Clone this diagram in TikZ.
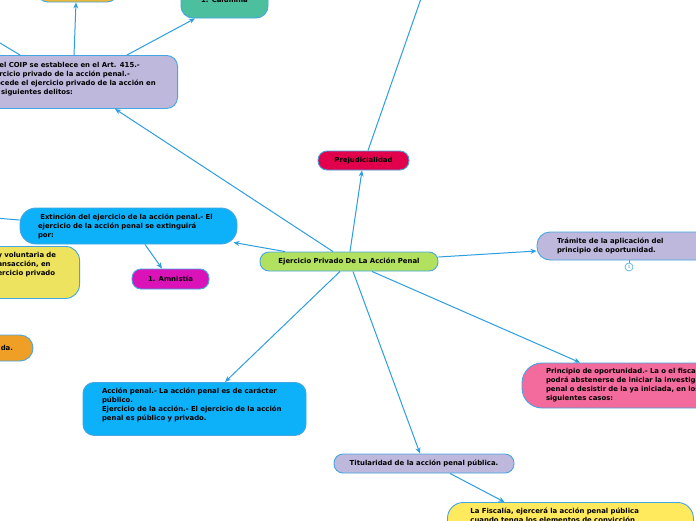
\documentclass[tikz,border=0pt]{standalone}
\usepackage{fontspec}
\usepackage{tikz}
\usetikzlibrary{arrows.meta}
\newfontfamily\mapfont{DejaVu Sans}

\definecolor{lienazul}{HTML}{2D9EE0}
\definecolor{bordeazul}{HTML}{45A6E2}
\definecolor{verdecentro}{HTML}{B2E05F}
\definecolor{carmin}{HTML}{E2004C}
\definecolor{celeste}{HTML}{0DB1F9}
\definecolor{lavanda}{HTML}{BDB8DC}
\definecolor{magenta}{HTML}{DA13B9}
\definecolor{amarillo}{HTML}{EDE35E}
\definecolor{amarillofis}{HTML}{FFEA5E}
\definecolor{naranja}{HTML}{F09F26}
\definecolor{ocre}{HTML}{EAB93A}
\definecolor{turquesa}{HTML}{4CBF9F}
\definecolor{rosa}{HTML}{F26B9C}

\begin{document}
\begin{tikzpicture}[x=1pt, y=-1pt,
    caja/.style={draw=bordeazul, line width=0.9pt, rounded corners=11pt,
        font=\mapfont\bfseries\fontsize{6.9}{9}\selectfont, text=black,
        inner ysep=4pt},
    pildora/.style={caja, rounded corners=9pt, inner sep=0pt,
        minimum height=19pt},
    enlace/.style={lienazul, line width=1pt, -{Stealth[length=6pt,width=5pt]}},
    rama/.style={lienazul, line width=1pt}]

    %% ── Marco de la vista ─────────────────────────────────────────────
    \useasboundingbox (0,0) rectangle (696,520);
    \clip (0,0) rectangle (696,520);
    \fill[white] (0,0) rectangle (696,520);

    %% ── Tema central ──────────────────────────────────────────────────
    \node[pildora, fill=verdecentro, minimum width=178pt] (central)
        at (349,261.5) {Ejercicio Privado De La Acción Penal};

    %% ── Rama superior ─────────────────────────────────────────────────
    \node[pildora, fill=carmin, minimum width=91pt] (prej)
        at (363.5,160.5) {Prejudicialidad};
    \coordinate (arriba) at (424,-10);

    \node[caja, fill=lavanda, text width=174pt, inner xsep=16pt,
          align=left, anchor=north east] (coip) at (178,55)
        {\rule{0pt}{8.5pt}En el COIP se establece en el Art. 415.-\\
         Ejercicio privado de la acción penal.-\\
         Procede el ejercicio privado de la acción en\\
         los siguientes delitos:\rule[-9.5pt]{0pt}{1pt}};
    \node[caja, fill=ocre, minimum width=81pt, minimum height=40pt]
        (ocre) at (77.5,-18) {};
    \node[caja, fill=turquesa, minimum width=87pt, minimum height=36pt,
          rounded corners=12pt] (calumnia) at (224.5,0) {1. Calumnia};
    \coordinate (fueraA) at (-5,40);

    %% ── Rama izquierda ────────────────────────────────────────────────
    \node[caja, fill=celeste, text width=181pt, inner xsep=18pt,
          minimum height=36pt, rounded corners=16pt, align=left]
        (extin) at (128.5,226)
        {\ Extinción del ejercicio de la acción penal.- El\\
         ejercicio de la acción penal se extinguirá\\
         por:};
    \coordinate (fueraB) at (-5,218);
    \node[pildora, fill=magenta, minimum width=77pt, minimum height=20pt]
        (amnis) at (170.5,279) {1. Amnistía};
    \node[caja, fill=amarillo, text width=62pt, inner xsep=20pt,
          rounded corners=14pt, align=left, anchor=north east]
        (renuncia) at (80,246)
        {\rule{0pt}{7pt}y voluntaria de\\ansacción, en\\
         ercicio privado\rule[-19pt]{0pt}{1pt}};
    \node[caja, fill=naranja, text width=63pt, inner xsep=20pt,
          minimum height=26pt, rounded corners=13pt, align=right]
        (cerrada) at (-18.5,348) {da.};

    %% ── Rama inferior ─────────────────────────────────────────────────
    \node[caja, fill=celeste, text width=185pt, inner xsep=19pt,
          align=left, anchor=north] (accion) at (194.5,382)
        {\rule{0pt}{7pt}Acción penal.- La acción penal es de carácter\\
         público.\\
         Ejercicio de la acción.- El ejercicio de la acción\\
         penal es público y privado.\rule[-11pt]{0pt}{1pt}};
    \node[pildora, fill=lavanda, minimum width=180pt] (titul)
        at (424,463.5) {Titularidad de la acción penal pública.};
    \node[caja, fill=amarillofis, text width=200pt, inner xsep=23pt,
          rounded corners=16pt, align=left, anchor=north west]
        (fiscalia) at (447,502)
        {\rule{0pt}{7pt}La Fiscalía, ejercerá la acción penal pública\\
         cuando tenga los elementos de convicción\rule[-30pt]{0pt}{1pt}};

    %% ── Rama derecha ──────────────────────────────────────────────────
    \node[caja, fill=lavanda, text width=143pt, inner xsep=20pt,
          minimum height=28pt, rounded corners=13pt, align=left]
        (tramite) at (628.5,246)
        {Trámite de la aplicación del\\principio de oportunidad.};
    \node[circle, draw=bordeazul, fill=white, line width=0.6pt,
          inner sep=0pt, minimum size=8pt,
          font=\mapfont\fontsize{4}{4}\selectfont, text=bordeazul]
        (plegado) at (629,267) {3};
    \node[caja, fill=rosa, text width=184pt, inner xsep=24pt,
          minimum height=45pt, rounded corners=20pt, align=left]
        (princ) at (638,385.5)
        {Principio de oportunidad.- La o el fiscal\\
         podrá abstenerse de iniciar la investigación\\
         penal o desistir de la ya iniciada, en los\\
         siguientes casos:};

    %% ── Conectores ────────────────────────────────────────────────────
    \draw[enlace] ([xshift=-16pt]central.north) -- ([xshift=-63pt]coip.south east);
    \draw[enlace] ([xshift=1pt]central.north) -- ([xshift=-1.5pt]prej.south);
    \draw[rama] ([xshift=4.5pt]prej.north) -- (arriba);
    \draw[enlace] ([xshift=-64pt]central.north) -- ([xshift=-4pt,yshift=2pt]extin.south east);
    \draw[enlace] ([xshift=16.5pt]extin.south) -- ([xshift=-8.5pt]amnis.north);
    \draw[rama] ([yshift=6pt]extin.west) -- (fueraB);
    \draw[enlace] ([xshift=-104pt]coip.north east) -- ([xshift=-1.5pt]ocre.south);
    \draw[enlace] ([xshift=-51pt]coip.north east) -- ([xshift=-29.5pt]calumnia.south);
    \draw[rama] ([xshift=-158pt]coip.north east) -- (fueraA);
    \draw[enlace] ([xshift=-9pt]central.south) -- ([xshift=30.5pt]accion.north);
    \draw[enlace] ([xshift=4pt]central.south) -- ([xshift=-4pt]titul.north);
    \draw[enlace] ([xshift=23pt]central.south) -- ([xshift=-58pt]princ.north);
    \draw[enlace] ([yshift=4.5pt]central.east) -- ([yshift=-5pt]tramite.west);
    \draw[enlace] ([xshift=26pt]titul.south) -- ([xshift=-66pt]fiscalia.north);
    \draw[bordeazul, line width=0.6pt] ([xshift=0.5pt]tramite.south) -- (plegado);

\end{tikzpicture}
\end{document}
